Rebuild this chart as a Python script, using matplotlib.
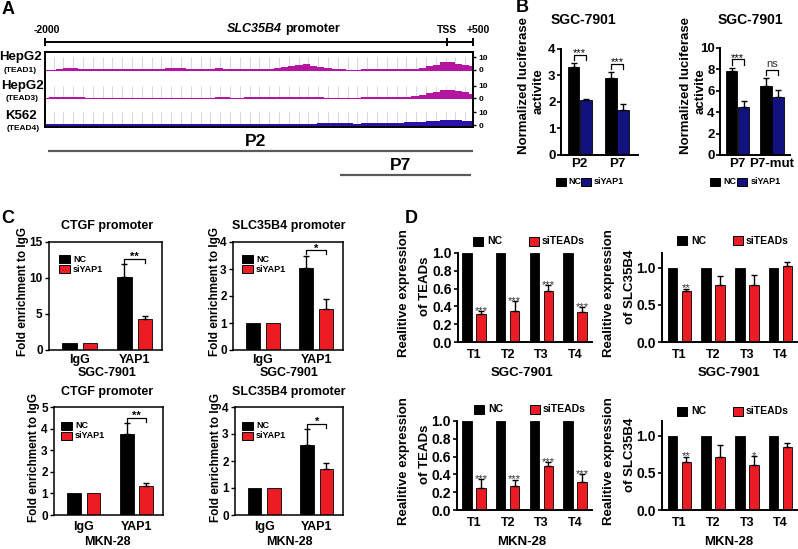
import numpy as np
import matplotlib
matplotlib.use("Agg")
import matplotlib.pyplot as plt
from matplotlib.patches import Rectangle

plt.rcParams['font.family'] = ['Liberation Sans', 'DejaVu Sans']
plt.rcParams['font.weight'] = 'bold'
plt.rcParams['axes.labelweight'] = 'bold'

# ---------------- data ----------------
# Panel A: ChIP-seq tracks on the SLC35B4 promoter (signal 0-10)
track_cells = ['HepG2', 'HepG2', 'K562']
track_factors = ['(TEAD1)', '(TEAD3)', '(TEAD4)']
tead1_signal = [0.3, 0.3, 1.0, 1.3, 1.2, 0.9, 0.4, 0.5, 0.6, 0.8,
                0.5, 0.6, 0.4, 0.5, 0.7, 0.6, 0.9, 1.4, 1.8, 1.4,
                0.9, 0.5, 0.8, 1.0, 1.2, 1.0, 1.1, 0.9, 0.7, 1.0,
                1.1, 0.9, 1.3, 2.0, 3.0, 4.2, 4.5, 3.4, 2.0, 1.6,
                0.8, 0.4, 0.2, 0.3, 0.6, 0.8, 0.9, 0.8, 0.9, 1.0,
                0.8, 0.9, 1.6, 3.2, 4.2, 6.0, 6.2, 4.8, 4.0, 3.0]
tead3_signal = [0.8, 1.0, 1.1, 1.0, 1.1, 0.9, 0.4, 0.4, 0.3, 0.5,
                0.4, 0.3, 0.4, 0.6, 0.7, 0.5, 0.4, 0.3, 0.2, 0.4,
                0.6, 0.7, 0.5, 0.8, 0.9, 1.0, 0.8, 0.6, 0.9, 1.0,
                0.9, 1.1, 1.0, 1.2, 1.3, 1.5, 1.2, 1.0, 0.9, 0.8,
                0.4, 0.2, 0.3, 0.6, 0.9, 1.0, 0.9, 1.0, 1.1, 1.0,
                1.4, 2.2, 3.0, 4.2, 5.5, 6.5, 7.0, 6.0, 5.0, 3.6]
tead4_signal = [0.7, 0.9, 1.0, 1.2, 1.0, 0.8, 0.9, 0.7, 0.8, 0.9,
                0.7, 0.6, 0.7, 0.8, 0.6, 0.7, 0.6, 0.5, 0.6, 0.7,
                0.6, 0.5, 0.6, 0.7, 0.8, 0.7, 0.6, 0.7, 0.8, 0.9,
                0.8, 0.7, 0.8, 0.9, 1.0, 0.9, 1.0, 1.1, 1.3, 1.5,
                1.6, 1.5, 1.3, 1.2, 1.4, 1.5, 1.4, 1.6, 1.9, 2.0,
                2.2, 2.5, 2.8, 3.2, 3.6, 4.2, 4.0, 3.8, 3.5, 3.2]
track_ticks = [0, 10]
ruler_labels = ['-2000', 'TSS', '+500']
ruler_pos = [0.0, 0.94, 1.0]
fragment_names = ['P2', 'P7']
fragment_start = [0.007, 0.69]
fragment_end = [1.0, 0.995]

# Panel B: luciferase activity, SGC-7901
b_title = 'SGC-7901'
b_ylabel = ['Normalized luciferase', 'activite']
b_series = ['NC', 'siYAP1']
b1_groups = ['P2', 'P7']
b1_nc = [3.31, 2.90]
b1_nc_err = [0.16, 0.23]
b1_si = [2.09, 1.71]
b1_si_err = [0.04, 0.23]
b1_sig = ['***', '***']
b2_groups = ['P7', 'P7-mut']
b2_nc = [7.85, 6.47]
b2_nc_err = [0.30, 0.72]
b2_si = [4.53, 5.40]
b2_si_err = [0.55, 0.70]
b2_sig = ['***', 'ns']

# Panel C: ChIP fold enrichment
c_groups = ['IgG', 'YAP1']
c_series = ['NC', 'siYAP1']
c_ylabel = 'Fold enrichment to IgG'
c_titles = ['CTGF promoter', 'SLC35B4 promoter', 'CTGF promoter', 'SLC35B4 promoter']
c_cells = ['SGC-7901', 'SGC-7901', 'MKN-28', 'MKN-28']
c_sgc_ctgf_nc = [1.0, 10.1]
c_sgc_ctgf_nc_err = [0.0, 1.8]
c_sgc_ctgf_si = [1.0, 4.3]
c_sgc_ctgf_si_err = [0.0, 0.45]
c_sgc_slc_nc = [1.0, 3.05]
c_sgc_slc_nc_err = [0.0, 0.45]
c_sgc_slc_si = [1.0, 1.52]
c_sgc_slc_si_err = [0.0, 0.38]
c_mkn_ctgf_nc = [1.0, 3.75]
c_mkn_ctgf_nc_err = [0.0, 0.50]
c_mkn_ctgf_si = [1.0, 1.35]
c_mkn_ctgf_si_err = [0.0, 0.13]
c_mkn_slc_nc = [1.0, 2.60]
c_mkn_slc_nc_err = [0.0, 0.58]
c_mkn_slc_si = [1.0, 1.70]
c_mkn_slc_si_err = [0.0, 0.23]
c_sig = ['**', '*', '**', '*']

# Panel D: relative expression after siTEADs
d_groups = ['T1', 'T2', 'T3', 'T4']
d_series = ['NC', 'siTEADs']
d_ylabels = [['Realitive expression', 'of TEADs'], ['Realitive expression', 'of SLC35B4']]
d_cells = ['SGC-7901', 'SGC-7901', 'MKN-28', 'MKN-28']
d_nc = [1.0, 1.0, 1.0, 1.0]
d_sgc_tead_si = [0.31, 0.35, 0.57, 0.34]
d_sgc_tead_err = [0.035, 0.11, 0.07, 0.05]
d_sgc_tead_sig = ['***', '***', '***', '***']
d_sgc_slc_si = [0.685, 0.775, 0.775, 1.02]
d_sgc_slc_err = [0.035, 0.11, 0.135, 0.065]
d_sgc_slc_sig = ['**', '', '', '']
d_mkn_tead_si = [0.25, 0.27, 0.49, 0.31]
d_mkn_tead_err = [0.10, 0.07, 0.05, 0.09]
d_mkn_tead_sig = ['***', '***', '***', '***']
d_mkn_slc_si = [0.645, 0.71, 0.61, 0.85]
d_mkn_slc_err = [0.075, 0.17, 0.12, 0.06]
d_mkn_slc_sig = ['**', '', '*', '']

# ---------------- style ----------------
MAGENTA = '#b3179f'
BLUE = '#2b12aa'
NAVY = '#12127e'
RED = '#ec1c24'

W, H = 798, 549
fig = plt.figure(figsize=(W / 100, H / 100), dpi=100)


def add_ax(x0, y0, x1, y1):
    return fig.add_axes([x0 / W, 1 - y1 / H, (x1 - x0) / W, (y1 - y0) / H])


def ftext(x, y, s, **kw):
    kw.setdefault('ha', 'center')
    kw.setdefault('va', 'center')
    return fig.text(x / W, 1 - y / H, s, **kw)


def swatch(x0, y0, w, h, color, label, tx, fs):
    fig.patches.append(Rectangle((x0 / W, 1 - (y0 + h) / H), w / W, h / H,
                                 transform=fig.transFigure, facecolor=color,
                                 edgecolor='black', lw=0.7))
    ftext(tx, y0 + h / 2, label, ha='left', size=fs)


def draw_bars(ax, nc, nc_err, si, si_err, color, width, off):
    x = np.arange(len(nc))
    ax.bar(x - off, nc, width, color='black', edgecolor='black', lw=0.6, zorder=2)
    ax.bar(x + off, si, width, color=color, edgecolor='black', lw=0.6, zorder=2)
    for xs, v, e in ((x - off, nc, nc_err), (x + off, si, si_err)):
        e = np.asarray(e, float)
        v = np.asarray(v, float)
        m = e > 0
        if m.any():
            ax.errorbar(xs[m], v[m], yerr=[np.zeros(m.sum()), e[m]], fmt='none',
                        ecolor='black', elinewidth=1.0, capsize=2.2, capthick=1.0, zorder=3)
    return x


def bracket(ax, x1, x2, top, leg, br, label, fs, weight='normal'):
    ax.plot([x1, x1, x2, x2], [top + leg, top + br, top + br, top + leg],
            color='black', lw=0.9, zorder=4, clip_on=False)
    if label == 'ns':
        ax.annotate(label, ((x1 + x2) / 2, top + br), xytext=(0, 0.5),
                    textcoords='offset points', ha='center', va='bottom',
                    fontsize=fs, fontweight='normal', color='#333333')
    else:
        ax.annotate(label, ((x1 + x2) / 2, top + br), xytext=(0, -1),
                    textcoords='offset points', ha='center', va='baseline',
                    fontsize=fs, fontweight=weight, annotation_clip=False)


def open_axes(ax, lw=1.4):
    for s in ('top', 'right'):
        ax.spines[s].set_visible(False)
    for s in ('left', 'bottom'):
        ax.spines[s].set_linewidth(lw)


# ---------------- panel letters ----------------
for lab, (x, y) in zip('ABCD', [(8, 9), (522, 8), (8, 218), (411, 218)]):
    ftext(x, y, lab, size=13)

# ---------------- panel A ----------------
axR = add_ax(45, 36, 473, 48)
axR.set_xlim(0, 1)
axR.set_ylim(0, 1)
axR.axis('off')
axR.plot([ruler_pos[0], ruler_pos[-1]], [0.5, 0.5], color='black', lw=1.4,
         solid_capstyle='butt', clip_on=False)
axR.vlines(ruler_pos, 0.15, 0.85, color='black', lw=1.4, clip_on=False)
for p, lab, dx in zip(ruler_pos, ruler_labels, [2, 0, 5]):
    ftext(45 + p * 428 + dx, 30, lab, size=7.5)
ftext(282, 29, 'SLC35B4', ha='right', style='italic', size=9)
ftext(285, 29, 'promoter', ha='left', size=9)

axA = add_ax(45, 52, 473, 127)
bases = [57, 28.5, 2]
scale = 1.25
signals = [tead1_signal, tead3_signal, tead4_signal]
colors = [MAGENTA, MAGENTA, BLUE]
gx = np.arange(0.02, 1.0, 0.0229)
for sig, base, col in zip(signals, bases, colors):
    xs = np.linspace(0, 1, len(sig))
    axA.vlines(gx, base, base + 10 * scale, color='#cfcfe9', lw=0.6, zorder=0)
    axA.fill_between(xs, base, base + np.asarray(sig) * scale, step='mid',
                     color=col, lw=0, zorder=2)
    axA.plot([0, 1], [base, base], color=col, lw=0.8, zorder=2)
axA.set_xlim(0, 1)
axA.set_ylim(0, 75)
axA.set_xticks([])
axA.yaxis.tick_right()
yt = [b + t * scale for b in bases for t in track_ticks]
axA.set_yticks(yt)
axA.set_yticklabels([str(t) for b in bases for t in track_ticks])
axA.tick_params(axis='y', length=2.5, width=1, labelsize=6, pad=1.5)
for s in axA.spines.values():
    s.set_linewidth(1.4)

for cell, fac, (cx, cy), (fx, fy) in zip(track_cells, track_factors,
                                         [(20, 57), (22, 86), (21, 116)],
                                         [(20, 70), (22, 99), (23, 129)]):
    ftext(cx, cy, cell, size=9.5)
    ftext(fx, fy, fac, size=6)

axF = add_ax(45, 132, 473, 182)
axF.set_xlim(0, 1)
axF.set_ylim(50, 0)
axF.axis('off')
for name, s, e, r in zip(fragment_names, fragment_start, fragment_end, [19, 43]):
    axF.plot([s, e], [r, r], color='#5a5a5a', lw=1.6, solid_capstyle='butt')
    axF.text((s + e) / 2 - 0.012, r - 9, name, ha='center', va='center', size=12.5)

# ---------------- panel B ----------------
b_specs = [
    dict(rect=(561, 49, 638, 155), groups=b1_groups, nc=b1_nc, nce=b1_nc_err,
         si=b1_si, sie=b1_si_err, sig=b1_sig, ymax=4, step=1, xlim=(-0.5, 1.56),
         width=0.315, off=0.165, title_x=583, ylab_x=(524, 539),
         leg=(556, 581, 568, 594)),
    dict(rect=(720, 48, 790, 155), groups=b2_groups, nc=b2_nc, nce=b2_nc_err,
         si=b2_si, sie=b2_si_err, sig=b2_sig, ymax=10, step=2, xlim=(-0.51, 1.52),
         width=0.333, off=0.175, title_x=750, ylab_x=(686, 701),
         leg=(710, 737, 723, 751)),
]
for sp in b_specs:
    ax = add_ax(*sp['rect'])
    x = draw_bars(ax, sp['nc'], sp['nce'], sp['si'], sp['sie'], NAVY, sp['width'], sp['off'])
    ax.set_xlim(*sp['xlim'])
    ax.set_ylim(0, sp['ymax'])
    ax.set_yticks(np.arange(0, sp['ymax'] + 0.01, sp['step']))
    ax.set_yticklabels([f"{v:g}" for v in np.arange(0, sp['ymax'] + 0.01, sp['step'])])
    ax.set_xticks(x)
    ax.set_xticklabels(sp['groups'])
    open_axes(ax)
    ax.tick_params(axis='y', length=3, width=1.2, labelsize=9.5, pad=1)
    ax.tick_params(axis='x', length=0, labelsize=9.5, pad=2)
    for i, lab in enumerate(sp['sig']):
        top = max(sp['nc'][i] + sp['nce'][i], sp['si'][i] + sp['sie'][i])
        bracket(ax, x[i] - sp['off'], x[i] + sp['off'], top,
                0.03 * sp['ymax'], 0.08 * sp['ymax'], lab, 8)
    ftext(sp['title_x'], 20, b_title, size=10)
    ftext(sp['ylab_x'][0], 86, b_ylabel[0], rotation=90, size=9.5)
    ftext(sp['ylab_x'][1], 91, b_ylabel[1], rotation=90, size=9.5)
    l = sp['leg']
    swatch(l[0], 178, 10, 8, 'black', b_series[0], l[2], 6.5)
    swatch(l[1], 178, 10, 8, NAVY, b_series[1], l[3], 6.5)

# ---------------- panel C ----------------
c_specs = [
    dict(rect=(49, 242, 162, 350), nc=c_sgc_ctgf_nc, nce=c_sgc_ctgf_nc_err,
         si=c_sgc_ctgf_si, sie=c_sgc_ctgf_si_err, ymax=15, step=5,
         tx=107, ty=226, cy=373, ylx=23, legx=59, legy=255, xpad=3),
    dict(rect=(233, 242, 343, 350), nc=c_sgc_slc_nc, nce=c_sgc_slc_nc_err,
         si=c_sgc_slc_si, sie=c_sgc_slc_si_err, ymax=4, step=1,
         tx=289, ty=226, cy=373, ylx=215, legx=242, legy=255, xpad=3),
    dict(rect=(54, 407, 163, 515), nc=c_mkn_ctgf_nc, nce=c_mkn_ctgf_nc_err,
         si=c_mkn_ctgf_si, sie=c_mkn_ctgf_si_err, ymax=5, step=1,
         tx=107, ty=392, cy=542, ylx=34, legx=61, legy=422, xpad=4.5),
    dict(rect=(235, 407, 343, 515), nc=c_mkn_slc_nc, nce=c_mkn_slc_nc_err,
         si=c_mkn_slc_si, sie=c_mkn_slc_si_err, ymax=4, step=1,
         tx=289, ty=392, cy=542, ylx=216, legx=242, legy=422, xpad=4.5),
]
for k, sp in enumerate(c_specs):
    ax = add_ax(*sp['rect'])
    x = draw_bars(ax, sp['nc'], sp['nce'], sp['si'], sp['sie'], RED, 0.26, 0.185)
    ax.set_xlim(-0.56, 1.5)
    ax.set_ylim(0, sp['ymax'])
    yt = np.arange(0, sp['ymax'] + 0.01, sp['step'])
    ax.set_yticks(yt)
    ax.set_yticklabels([f"{v:g}" for v in yt])
    ax.set_xticks(x)
    ax.set_xticklabels(c_groups)
    for s in ax.spines.values():
        s.set_linewidth(1.1)
    ax.tick_params(axis='y', length=3, width=1, labelsize=8.5, pad=1.5)
    ax.tick_params(axis='x', length=0, labelsize=9, pad=sp['xpad'])
    i = 1
    top = max(sp['nc'][i] + sp['nce'][i], sp['si'][i] + sp['sie'][i])
    bracket(ax, x[i] - 0.185, x[i] + 0.185, top, 0.01 * sp['ymax'],
            0.05 * sp['ymax'], c_sig[k], 8, weight='bold')
    y0, y1 = sp['rect'][1], sp['rect'][3]
    ftext(sp['tx'], sp['ty'], c_titles[k], size=9)
    ftext(sp['tx'], sp['cy'], c_cells[k], size=9)
    ftext(sp['ylx'], (y0 + y1) / 2 - 4, c_ylabel, rotation=90, size=8.5)
    swatch(sp['legx'], sp['legy'], 11, 8, 'black', c_series[0], sp['legx'] + 14, 6.5)
    swatch(sp['legx'], sp['legy'] + 10, 11, 8, RED, c_series[1], sp['legx'] + 14, 6.5)

# ---------------- panel D ----------------
d_specs = [
    dict(rect=(458, 253, 592, 342), si=d_sgc_tead_si, err=d_sgc_tead_err,
         sig=d_sgc_tead_sig, ymax=1.0, yt=[0, 0.2, 0.4, 0.6, 0.8, 1.0],
         xlim=(-0.475, 3.5), leg=(473, 237), cx=522, cy=373, yl=0, ylx=(404, 425)),
    dict(rect=(662, 253, 797, 342), si=d_sgc_slc_si, err=d_sgc_slc_err,
         sig=d_sgc_slc_sig, ymax=1.2, yt=[0, 0.5, 1.0],
         xlim=(-0.52, 3.49), leg=(677, 236), cx=729, cy=373, yl=1, ylx=(609, 630)),
    dict(rect=(457, 421, 592, 510), si=d_mkn_tead_si, err=d_mkn_tead_err,
         sig=d_mkn_tead_sig, ymax=1.0, yt=[0, 0.2, 0.4, 0.6, 0.8, 1.0],
         xlim=(-0.5, 3.5), leg=(474, 405), cx=522, cy=542, yl=0, ylx=(404, 425)),
    dict(rect=(662, 421, 797, 510), si=d_mkn_slc_si, err=d_mkn_slc_err,
         sig=d_mkn_slc_sig, ymax=1.2, yt=[0, 0.5, 1.0],
         xlim=(-0.52, 3.49), leg=(677, 407), cx=729, cy=542, yl=1, ylx=(609, 630)),
]
for k, sp in enumerate(d_specs):
    ax = add_ax(*sp['rect'])
    x = draw_bars(ax, d_nc, [0] * len(d_nc), sp['si'], sp['err'], RED, 0.28, 0.207)
    ax.set_xlim(*sp['xlim'])
    ax.set_ylim(0, sp['ymax'])
    ax.set_yticks(sp['yt'])
    ax.set_yticklabels([f"{v:.1f}" for v in sp['yt']])
    ax.set_xticks(x)
    ax.set_xticklabels(d_groups)
    open_axes(ax)
    ax.tick_params(axis='y', length=3, width=1.2, labelsize=10, pad=1.5)
    ax.tick_params(axis='x', length=0, labelsize=9, pad=5)
    for xi, v, e, s in zip(x, sp['si'], sp['err'], sp['sig']):
        if s:
            ax.annotate(s, (xi + 0.207, v + e), xytext=(0, -2), textcoords='offset points',
                        ha='center', va='baseline', fontsize=8, fontweight='normal',
                        color='#333333', annotation_clip=False)
    y0, y1 = sp['rect'][1], sp['rect'][3]
    ym = (y0 + y1) / 2
    ftext(sp['ylx'][0], ym - 4, d_ylabels[sp['yl']][0], rotation=90, size=9.5)
    ftext(sp['ylx'][1], ym - 11, d_ylabels[sp['yl']][1], rotation=90, size=9.5)
    ftext(sp['cx'], sp['cy'], d_cells[k], size=9.5)
    lx, ly = sp['leg']
    swatch(lx, ly, 10, 9, 'black', d_series[0], lx + 14, 7.5)
    swatch(lx + 56, ly, 10, 9, RED, d_series[1], lx + 69, 7.5)

fig.savefig('out.png', dpi=100)
